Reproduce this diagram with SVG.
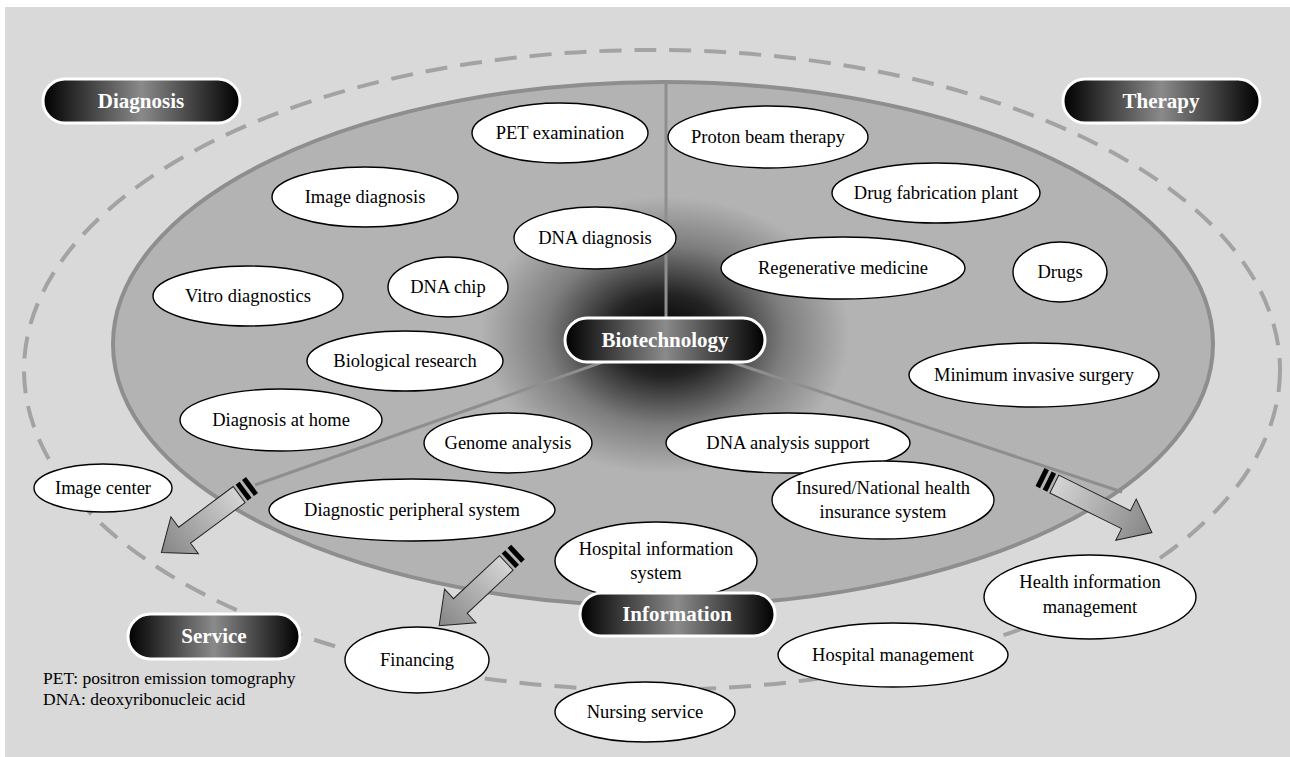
<svg xmlns="http://www.w3.org/2000/svg" width="1290" height="757" viewBox="0 0 1290 757">
<defs>
<style>
.node ellipse{fill:#fff;stroke:#000;stroke-width:1.4}
.node text{font-family:"Liberation Serif","Times New Roman",serif;font-size:18.5px;fill:#000;text-anchor:middle}
.note{font-family:"Liberation Serif","Times New Roman",serif;font-size:17.5px;fill:#000}
.pill rect{fill:url(#pillGrad);stroke:#fff;stroke-width:3}
.pill text{font-family:"Liberation Serif","Times New Roman",serif;font-size:21px;font-weight:bold;fill:#fff;text-anchor:middle}
.part{stroke:#8e8e8e;stroke-width:3;fill:none}
.arrow .body{fill:url(#arrowGrad);stroke:#222;stroke-width:1}
.arrow .stripe{fill:#fff;stroke:#222;stroke-width:1}
</style>
<linearGradient id="pillGrad" x1="0" y1="0" x2="1" y2="0">
<stop offset="0" stop-color="#000"/>
<stop offset="0.5" stop-color="#8a8a8a"/>
<stop offset="1" stop-color="#000"/>
</linearGradient>
<linearGradient id="arrowGrad" x1="0" y1="0" x2="1" y2="0">
<stop offset="0" stop-color="#d4d4d4"/>
<stop offset="1" stop-color="#858585"/>
</linearGradient>
<radialGradient id="glow" cx="665" cy="335" r="185" gradientUnits="userSpaceOnUse" gradientTransform="translate(665 335) scale(1 0.75) translate(-665 -335)">
<stop offset="0" stop-color="#000" stop-opacity="1"/>
<stop offset="0.3" stop-color="#000" stop-opacity="0.8"/>
<stop offset="0.65" stop-color="#000" stop-opacity="0.3"/>
<stop offset="1" stop-color="#000" stop-opacity="0"/>
</radialGradient>
<clipPath id="bigClip"><ellipse cx="663" cy="344" rx="550" ry="262"/></clipPath>
<g id="arrowShape">
<polygon class="stripe" points="0,-10 5,-10 5,10 0,10"/>
<polygon class="stripe" points="8,-10 13,-10 13,10 8,10"/>
</g>
</defs>
<rect x="0" y="0" width="1290" height="757" fill="#fff"/>
<rect x="5" y="7" width="1285" height="750" fill="#d9d9d9"/>
<ellipse cx="652" cy="370" rx="628" ry="320" fill="none" stroke="#a3a3a3" stroke-width="4" stroke-dasharray="22 13"/>
<ellipse cx="663" cy="344" rx="550" ry="262" fill="#b3b3b3" stroke="#8e8e8e" stroke-width="4"/>
<ellipse cx="665" cy="335" rx="220" ry="160" fill="url(#glow)" clip-path="url(#bigClip)"/>
<g id="connectors">
<line class="part" x1="666" y1="82" x2="666" y2="330"/>
<line class="part" x1="665" y1="340" x2="255" y2="485"/>
<line class="part" x1="665" y1="340" x2="1122" y2="492"/>
<g class="arrow" transform="translate(252 485) rotate(143.3)">
<use href="#arrowShape"/>
<polygon class="body" points="16,-10 84,-10 84,-23 113,0 84,23 84,10 16,10"/>
</g>
<g class="arrow" transform="translate(1040 477) rotate(26.4)">
<use href="#arrowShape"/>
<polygon class="body" points="16,-10 96,-10 96,-23 125,0 96,23 96,10 16,10"/>
</g>
<g class="arrow" transform="translate(518 552) rotate(136.9)">
<use href="#arrowShape"/>
<polygon class="body" points="16,-10 79,-10 79,-23 108,0 79,23 79,10 16,10"/>
</g>
</g>
<g id="n-pet" class="node"><ellipse cx="560" cy="133" rx="88" ry="30"/><text x="560" y="139">PET examination</text></g>
<g id="n-image-diagnosis" class="node"><ellipse cx="365" cy="197" rx="93" ry="30"/><text x="365" y="203">Image diagnosis</text></g>
<g id="n-dna-diagnosis" class="node"><ellipse cx="595" cy="238" rx="81" ry="31"/><text x="595" y="244">DNA diagnosis</text></g>
<g id="n-vitro" class="node"><ellipse cx="248" cy="296" rx="95" ry="30"/><text x="248" y="302">Vitro diagnostics</text></g>
<g id="n-dna-chip" class="node"><ellipse cx="448" cy="287" rx="60" ry="30"/><text x="448" y="293">DNA chip</text></g>
<g id="n-bio-research" class="node"><ellipse cx="405" cy="361" rx="98" ry="30"/><text x="405" y="367">Biological research</text></g>
<g id="n-diag-home" class="node"><ellipse cx="281" cy="420" rx="101" ry="31"/><text x="281" y="426">Diagnosis at home</text></g>
<g id="n-genome" class="node"><ellipse cx="508" cy="443" rx="84" ry="30"/><text x="508" y="449">Genome analysis</text></g>
<g id="n-dna-support" class="node"><ellipse cx="788" cy="443" rx="122" ry="30"/><text x="788" y="449">DNA analysis support</text></g>
<g id="n-image-center" class="node"><ellipse cx="103" cy="488" rx="69" ry="24"/><text x="103" y="494">Image center</text></g>
<g id="n-diag-peripheral" class="node"><ellipse cx="412" cy="510" rx="143" ry="31"/><text x="412" y="516">Diagnostic peripheral system</text></g>
<g id="n-hospital-info" class="node"><ellipse cx="656" cy="561" rx="101" ry="39"/><text x="656" y="555">Hospital information</text><text x="656" y="579">system</text></g>
<g id="n-insured" class="node"><ellipse cx="883" cy="500" rx="111" ry="39"/><text x="883" y="494">Insured/National health</text><text x="883" y="518">insurance system</text></g>
<g id="n-proton" class="node"><ellipse cx="768" cy="137" rx="100" ry="31"/><text x="768" y="143">Proton beam therapy</text></g>
<g id="n-drug-plant" class="node"><ellipse cx="936" cy="193" rx="104" ry="30"/><text x="936" y="199">Drug fabrication plant</text></g>
<g id="n-regen" class="node"><ellipse cx="843" cy="268" rx="122" ry="31"/><text x="843" y="274">Regenerative medicine</text></g>
<g id="n-drugs" class="node"><ellipse cx="1060" cy="272" rx="47" ry="30"/><text x="1060" y="278">Drugs</text></g>
<g id="n-surgery" class="node"><ellipse cx="1034" cy="375" rx="125" ry="32"/><text x="1034" y="381">Minimum invasive surgery</text></g>
<g id="n-health-info" class="node"><ellipse cx="1090" cy="597" rx="106" ry="42"/><text x="1090" y="588">Health information</text><text x="1090" y="613">management</text></g>
<g id="n-hospital-mgmt" class="node"><ellipse cx="893" cy="655" rx="115" ry="32"/><text x="893" y="661">Hospital management</text></g>
<g id="n-financing" class="node"><ellipse cx="417" cy="660" rx="72" ry="33"/><text x="417" y="666">Financing</text></g>
<g id="n-nursing" class="node"><ellipse cx="645" cy="712" rx="90" ry="30"/><text x="645" y="718">Nursing service</text></g>
<g id="p-diagnosis" class="pill"><rect x="43" y="79" width="197" height="44" rx="22"/><text x="141" y="108">Diagnosis</text></g>
<g id="p-therapy" class="pill"><rect x="1063" y="79" width="197" height="44" rx="22"/><text x="1161" y="108">Therapy</text></g>
<g id="p-biotech" class="pill"><rect x="565" y="318" width="200" height="44" rx="22"/><text x="665" y="347">Biotechnology</text></g>
<g id="p-service" class="pill"><rect x="128" y="614" width="172" height="45" rx="22.5"/><text x="214" y="643">Service</text></g>
<g id="p-information" class="pill"><rect x="580" y="593" width="195" height="43" rx="21.5"/><text x="677" y="621">Information</text></g>
<text class="note" x="43" y="684">PET: positron emission tomography</text>
<text class="note" x="43" y="705">DNA: deoxyribonucleic acid</text>
</svg>
